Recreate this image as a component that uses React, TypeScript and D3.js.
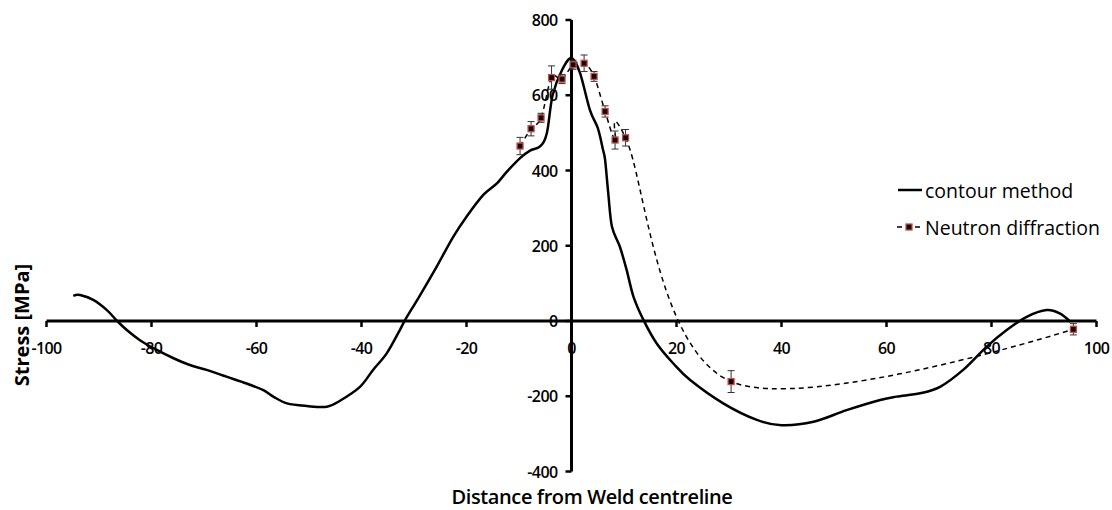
import React from "react";
import * as d3 from "d3";

const contourX = [-94.9, -93.6, -91.1, -88.5, -86.6, -84.7, -82.2, -79, -75.8, -72.7, -69.5, -65.7, -61.9, -58.7, -56.8, -54.2, -50.4, -46.6, -44.1, -40.3, -37.8, -35.2, -32.7, -31.6, -29, -25.7, -22.5, -20, -16.8, -14.2, -12.3, -9.8, -7.9, -6, -4.7, -3.6, -1.8, 0, 1.6, 3.5, 5, 6, 6.4, 7, 7.7, 9.2, 10.5, 11.8, 13.7, 16.2, 19.4, 22.6, 28.9, 35.3, 40, 46.1, 52.4, 58.8, 61.9, 66.4, 70.2, 74.6, 79.1, 82.9, 86.7, 90.5, 93, 95];
const contourY = [67, 69, 56, 29, 1, -24, -51, -77, -99, -117, -130, -148, -166, -184, -201, -219, -226, -228, -212, -175, -130, -86, -24, 5, 65, 144, 224, 277, 335, 366, 397, 433, 453, 464, 499, 600, 667, 699, 660, 561, 513, 455, 428, 340, 251, 198, 136, 65, 3, -59, -113, -157, -219, -263, -277, -268, -237, -210, -201, -192, -175, -130, -68, -24, 11, 29, 20, -2];

const neutronX = [-9.8, -7.7, -5.8, -3.8, -1.8, 0.3, 2.4, 4.3, 6.4, 8.3, 10.3, 30.4, 95.6];
const neutronY = [465, 511, 540, 647, 643, 681, 685, 650, 557, 481, 487, -161, -22];
const neutronErr = [23, 19, 12, 31, 12, 12, 22, 13, 15, 24, 22, 29, 15];

const xTicks = [-100, -80, -60, -40, -20, 0, 20, 40, 60, 80, 100];
const yTicks = [-400, -200, 0, 200, 400, 600, 800];

const seriesNames = ["contour method", "Neutron diffraction"];
const xTitle = "Distance from Weld centreline";
const yTitle = "Stress [MPa]";

const FONT = "'Open Sans', 'Liberation Sans', sans-serif";

export default function App() {
  const W = 1112;
  const H = 510;
  const x = d3.scaleLinear().domain([-100, 100]).range([46.5, 1096.5]);
  const y = d3.scaleLinear().domain([-400, 800]).range([471.5, 20]);

  const contourPts: [number, number][] = contourX.map((v, i) => [x(v), y(contourY[i])]);
  const neutronPts: [number, number][] = neutronX.map((v, i) => [x(v), y(neutronY[i])]);

  const line = d3.line().curve(d3.curveCardinal.tension(0));
  const contourPath = line(contourPts) || "";
  const neutronPath = line(neutronPts) || "";

  const x0 = x(0);
  const y0 = y(0);

  return (
    <svg
      width={W}
      height={H}
      style={{ position: "absolute", left: 0, top: 0, background: "#fff" }}
      fontFamily={FONT}
    >
      <rect x={0} y={0} width={W} height={H} fill="#fff" />
      {/* x axis */}
      <line x1={x(-100)} x2={x(100)} y1={y0} y2={y0} stroke="#000" strokeWidth={3} />
      {xTicks.map((t) => (
        <g key={"xt" + t}>
          <line x1={x(t)} x2={x(t)} y1={y0} y2={y0 + 6} stroke="#000" strokeWidth={2.5} />
          <text
            x={x(t)}
            y={y0 + 27}
            textAnchor="middle"
            dominantBaseline="central"
            fontSize={16}
            fontWeight={600}
            letterSpacing={-0.6}
            fill="#000"
          >
            {t}
          </text>
        </g>
      ))}
      {/* y axis */}
      <line x1={x0} x2={x0} y1={y(800)} y2={y(-400)} stroke="#000" strokeWidth={3} />
      {yTicks.map((t) => (
        <g key={"yt" + t}>
          <line x1={x0 - 6} x2={x0} y1={y(t)} y2={y(t)} stroke="#000" strokeWidth={2.5} />
          <text
            x={x0 - 14}
            y={y(t)}
            textAnchor="end"
            dominantBaseline="central"
            fontSize={16}
            fontWeight={600}
            letterSpacing={-0.6}
            fill="#000"
          >
            {t}
          </text>
        </g>
      ))}

      {/* contour line */}
      <path d={contourPath} fill="none" stroke="#000" strokeWidth={2.5} />
      {/* neutron dashed line */}
      <path d={neutronPath} fill="none" stroke="#000" strokeWidth={1.5} strokeDasharray="5,4" />
      {/* error bars and markers */}
      {neutronPts.map((p, i) => {
        const top = y(neutronY[i] + neutronErr[i]);
        const bot = y(neutronY[i] - neutronErr[i]);
        return (
          <g key={"np" + i}>
            <line x1={p[0]} x2={p[0]} y1={top} y2={bot} stroke="#333" strokeWidth={1} />
            <line x1={p[0] - 3.5} x2={p[0] + 3.5} y1={top} y2={top} stroke="#333" strokeWidth={1} />
            <line x1={p[0] - 3.5} x2={p[0] + 3.5} y1={bot} y2={bot} stroke="#333" strokeWidth={1} />
            <rect x={p[0] - 3} y={p[1] - 3} width={6} height={6} fill="#140404" stroke="#c0504d" strokeWidth={1.3} />
          </g>
        );
      })}

      {/* legend */}
      <line x1={898} x2={922} y1={190} y2={190} stroke="#000" strokeWidth={2.5} />
      <text x={925} y={190} dominantBaseline="central" fontSize={19.5} fontWeight={500} fill="#000">
        {seriesNames[0]}
      </text>
      <line x1={897} x2={921} y1={227} y2={227} stroke="#000" strokeWidth={1.5} strokeDasharray="5,4" />
      <rect x={906} y={224} width={6} height={6} fill="#140404" stroke="#c0504d" strokeWidth={1.3} />
      <text x={925} y={227} dominantBaseline="central" fontSize={19.5} fontWeight={500} fill="#000">
        {seriesNames[1]}
      </text>

      {/* axis titles */}
      <text x={592} y={496} textAnchor="middle" dominantBaseline="central" fontSize={20} fontWeight={600} letterSpacing={-0.4} fill="#000">
        {xTitle}
      </text>
      <text
        transform={`translate(21,325) rotate(-90)`}
        textAnchor="middle"
        dominantBaseline="central"
        fontSize={20}
        fontWeight={700}
        fill="#000"
      >
        {yTitle}
      </text>
    </svg>
  );
}
